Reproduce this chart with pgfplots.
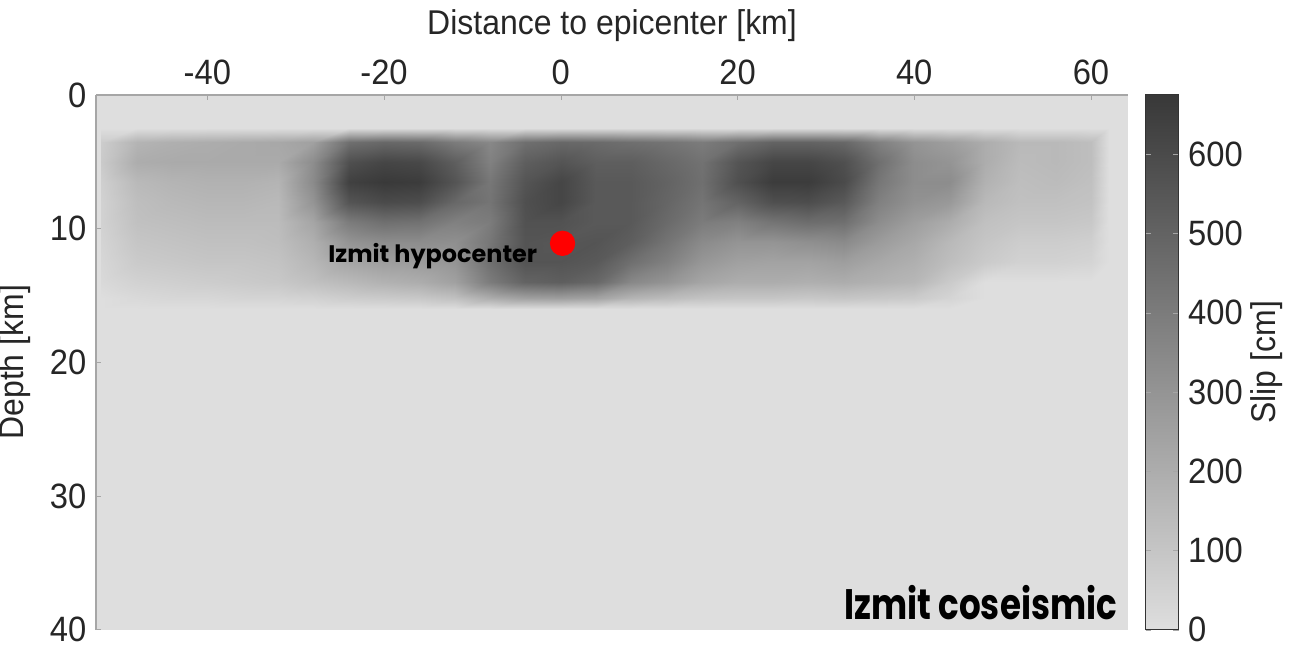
\documentclass[border=0pt]{standalone}
\usepackage{fontspec}
\setmainfont{Liberation Sans}[FakeStretch=0.93]
\newfontfamily\geo{Poppins}
\newfontfamily\geonarrow{Poppins}[FakeStretch=0.8]
\usepackage{pgfplots}
\pgfplotsset{compat=1.18}
\begin{document}
\begin{tikzpicture}
\begin{axis}[
  scale only axis, width=375.3pt, height=194.5pt,
  xmin=-52.6, xmax=64.2, ymin=0, ymax=40, y dir=reverse,
  axis x line*=top, axis y line*=left,
  axis line style={draw=gray!70, line width=0.5pt},
  xtick={-40,-20,0,20,40,60}, ytick={0,10,20,30,40},
  tick align=inside, major tick length=2pt,
  tick style={gray!70},
  /pgf/number format/assume math mode=true,
  tick label style={font=\fontsize{12.8}{15}\selectfont, text=black!85},
  label style={font=\fontsize{12.5}{15}\selectfont, text=black!85},
  xlabel={Distance to epicenter [km]},
  ylabel={Depth [km]},
  axis background/.style={fill={rgb,255:red,222;green,222;blue,222}},
  colormap={slip}{rgb255(0cm)=(222,222,222); rgb255(1cm)=(56,56,56)},
  point meta min=0, point meta max=675,
  colorbar,
  colorbar style={
    at={(parent axis.north east)}, anchor=north west, xshift=-2.2pt,
    width=12pt,
    ytick={0,100,200,300,400,500,600},
    ylabel={Slip [cm]},
    ylabel shift=-4pt,
    tick align=inside, major tick length=2pt,
    axis line style={draw=black!80},
    /pgf/number format/assume math mode=true,
    yticklabel style={font=\fontsize{12.8}{15}\selectfont, text=black!85},
    ylabel style={font=\fontsize{12.5}{15}\selectfont, text=black!85},
  },
  axis on top,
  clip=true,
]
\addplot[surf, shader=interp, point meta=explicit, mesh/cols=31] coordinates {
(-52,2.5)[0] (-48,2.5)[0] (-44,2.5)[0] (-40,2.5)[0] (-36,2.5)[0] (-32,2.5)[0] (-28,2.5)[0] (-24,2.5)[0] (-20,2.5)[0] (-16,2.5)[0] (-12,2.5)[0] (-8,2.5)[0] (-4,2.5)[0] (0,2.5)[0] (4,2.5)[0] (8,2.5)[0] (12,2.5)[0] (16,2.5)[0] (20,2.5)[0] (24,2.5)[0] (28,2.5)[0] (32,2.5)[0] (36,2.5)[0] (40,2.5)[0] (44,2.5)[0] (48,2.5)[0] (52,2.5)[0] (56,2.5)[0] (60,2.5)[0] (62,2.5)[0] (63.5,2.5)[0]
(-52,3.5)[70] (-48,3.5)[170] (-44,3.5)[190] (-40,3.5)[200] (-36,3.5)[210] (-32,3.5)[220] (-28,3.5)[250] (-24,3.5)[450] (-20,3.5)[480] (-16,3.5)[470] (-12,3.5)[400] (-8,3.5)[350] (-4,3.5)[450] (0,3.5)[480] (4,3.5)[470] (8,3.5)[450] (12,3.5)[430] (16,3.5)[400] (20,3.5)[450] (24,3.5)[500] (28,3.5)[500] (32,3.5)[480] (36,3.5)[380] (40,3.5)[300] (44,3.5)[260] (48,3.5)[200] (52,3.5)[150] (56,3.5)[150] (60,3.5)[130] (62,3.5)[0] (63.5,3.5)[0]
(-52,5)[80] (-48,5)[200] (-44,5)[210] (-40,5)[210] (-36,5)[210] (-32,5)[210] (-28,5)[330] (-24,5)[580] (-20,5)[620] (-16,5)[610] (-12,5)[520] (-8,5)[380] (-4,5)[520] (0,5)[560] (4,5)[520] (8,5)[520] (12,5)[480] (16,5)[440] (20,5)[560] (24,5)[620] (28,5)[620] (32,5)[580] (36,5)[450] (40,5)[330] (44,5)[300] (48,5)[200] (52,5)[140] (56,5)[150] (60,5)[130] (62,5)[0] (63.5,5)[0]
(-52,6.5)[60] (-48,6.5)[150] (-44,6.5)[170] (-40,6.5)[180] (-36,6.5)[180] (-32,6.5)[170] (-28,6.5)[340] (-24,6.5)[640] (-20,6.5)[670] (-16,6.5)[660] (-12,6.5)[560] (-8,6.5)[420] (-4,6.5)[560] (0,6.5)[620] (4,6.5)[540] (8,6.5)[540] (12,6.5)[500] (16,6.5)[450] (20,6.5)[580] (24,6.5)[660] (28,6.5)[660] (32,6.5)[600] (36,6.5)[420] (40,6.5)[330] (44,6.5)[330] (48,6.5)[180] (52,6.5)[130] (56,6.5)[140] (60,6.5)[120] (62,6.5)[0] (63.5,6.5)[0]
(-52,8)[50] (-48,8)[130] (-44,8)[150] (-40,8)[160] (-36,8)[160] (-32,8)[150] (-28,8)[300] (-24,8)[560] (-20,8)[600] (-16,8)[590] (-12,8)[480] (-8,8)[430] (-4,8)[580] (0,8)[620] (4,8)[540] (8,8)[540] (12,8)[490] (16,8)[430] (20,8)[500] (24,8)[580] (28,8)[590] (32,8)[540] (36,8)[380] (40,8)[310] (44,8)[280] (48,8)[150] (52,8)[120] (56,8)[120] (60,8)[110] (62,8)[0] (63.5,8)[0]
(-52,9.5)[50] (-48,9.5)[120] (-44,9.5)[130] (-40,9.5)[140] (-36,9.5)[140] (-32,9.5)[140] (-28,9.5)[230] (-24,9.5)[400] (-20,9.5)[450] (-16,9.5)[440] (-12,9.5)[380] (-8,9.5)[400] (-4,9.5)[570] (0,9.5)[570] (4,9.5)[540] (8,9.5)[540] (12,9.5)[470] (16,9.5)[400] (20,9.5)[380] (24,9.5)[430] (28,9.5)[460] (32,9.5)[450] (36,9.5)[330] (40,9.5)[260] (44,9.5)[200] (48,9.5)[120] (52,9.5)[100] (56,9.5)[100] (60,9.5)[90] (62,9.5)[0] (63.5,9.5)[0]
(-52,11)[40] (-48,11)[100] (-44,11)[110] (-40,11)[120] (-36,11)[120] (-32,11)[130] (-28,11)[190] (-24,11)[300] (-20,11)[330] (-16,11)[330] (-12,11)[320] (-8,11)[420] (-4,11)[560] (0,11)[550] (4,11)[560] (8,11)[520] (12,11)[430] (16,11)[340] (20,11)[300] (24,11)[300] (28,11)[320] (32,11)[340] (36,11)[270] (40,11)[220] (44,11)[150] (48,11)[100] (52,11)[70] (56,11)[70] (60,11)[60] (62,11)[0] (63.5,11)[0]
(-52,12.5)[30] (-48,12.5)[80] (-44,12.5)[90] (-40,12.5)[100] (-36,12.5)[100] (-32,12.5)[110] (-28,12.5)[160] (-24,12.5)[230] (-20,12.5)[260] (-16,12.5)[270] (-12,12.5)[300] (-8,12.5)[450] (-4,12.5)[560] (0,12.5)[560] (4,12.5)[540] (8,12.5)[450] (12,12.5)[380] (16,12.5)[290] (20,12.5)[250] (24,12.5)[240] (28,12.5)[240] (32,12.5)[260] (36,12.5)[220] (40,12.5)[190] (44,12.5)[130] (48,12.5)[80] (52,12.5)[50] (56,12.5)[50] (60,12.5)[40] (62,12.5)[0] (63.5,12.5)[0]
(-52,14)[20] (-48,14)[50] (-44,14)[60] (-40,14)[70] (-36,14)[80] (-32,14)[90] (-28,14)[120] (-24,14)[150] (-20,14)[180] (-16,14)[200] (-12,14)[250] (-8,14)[400] (-4,14)[500] (0,14)[520] (4,14)[480] (8,14)[350] (12,14)[300] (16,14)[230] (20,14)[200] (24,14)[200] (28,14)[190] (32,14)[200] (36,14)[180] (40,14)[160] (44,14)[80] (48,14)[0] (52,14)[0] (56,14)[0] (60,14)[0] (62,14)[0] (63.5,14)[0]
(-52,15.2)[0] (-48,15.2)[20] (-44,15.2)[30] (-40,15.2)[30] (-36,15.2)[40] (-32,15.2)[40] (-28,15.2)[50] (-24,15.2)[70] (-20,15.2)[80] (-16,15.2)[90] (-12,15.2)[120] (-8,15.2)[200] (-4,15.2)[250] (0,15.2)[260] (4,15.2)[240] (8,15.2)[170] (12,15.2)[140] (16,15.2)[110] (20,15.2)[100] (24,15.2)[100] (28,15.2)[90] (32,15.2)[100] (36,15.2)[90] (40,15.2)[80] (44,15.2)[40] (48,15.2)[0] (52,15.2)[0] (56,15.2)[0] (60,15.2)[0] (62,15.2)[0] (63.5,15.2)[0]
(-52,16)[0] (-48,16)[0] (-44,16)[0] (-40,16)[0] (-36,16)[0] (-32,16)[0] (-28,16)[0] (-24,16)[0] (-20,16)[0] (-16,16)[0] (-12,16)[0] (-8,16)[0] (-4,16)[0] (0,16)[0] (4,16)[0] (8,16)[0] (12,16)[0] (16,16)[0] (20,16)[0] (24,16)[0] (28,16)[0] (32,16)[0] (36,16)[0] (40,16)[0] (44,16)[0] (48,16)[0] (52,16)[0] (56,16)[0] (60,16)[0] (62,16)[0] (63.5,16)[0]
};
\addplot[only marks, mark=*, mark size=4.4pt, color=red, mark options={draw=red, fill=red}] coordinates {(0.2,11.1)};
\node[anchor=base east, inner sep=0pt, font=\geo\bfseries\fontsize{8.7}{10}\selectfont] at (axis cs:-2.6,12.5) {Izmit hypocenter};
\node[anchor=base east, inner sep=0pt, font=\geonarrow\bfseries\fontsize{15.5}{18}\selectfont] at (axis cs:63.0,39.25) {Izmit coseismic};
\end{axis}
\pgfresetboundingbox
\path[use as bounding box] (-34.9pt,-6.9pt) rectangle (436.0pt,229.0pt);
\end{tikzpicture}
\end{document}
